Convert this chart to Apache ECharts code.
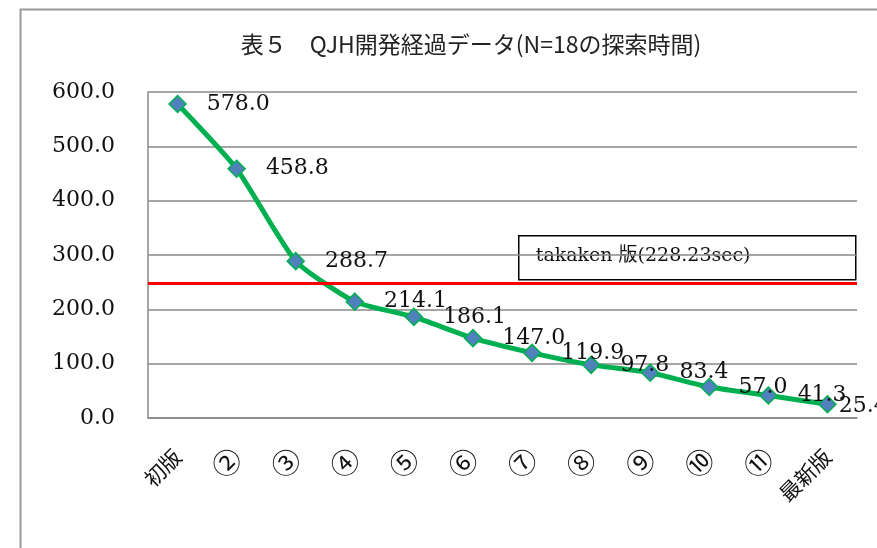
<!DOCTYPE html>
<html>
<head>
<meta charset="utf-8">
<script src="https://cdn.jsdelivr.net/npm/echarts@6/dist/echarts.min.js"></script>
<style>
  html, body { margin: 0; padding: 0; background: #fff; }
  #chart { width: 877px; height: 548px; }
</style>
</head>
<body>
<div id="chart"></div>
<script>
// 版ごとの探索時間 (sec)
const categories = ['初版', '②', '③', '④', '⑤', '⑥', '⑦', '⑧', '⑨', '⑩', '⑪', '最新版']
const times = [578.0, 458.8, 288.7, 214.1, 186.1, 147.0, 119.9, 97.8, 83.4, 57.0, 41.3, 25.4]
// takaken 版の基準線 (図の位置から読んだ値)
const takakenLevel = 248
const takakenText = 'takaken 版(228.23sec)'
const yTicks = { min: 0, max: 600, interval: 100 }

const numFont = 'DejaVu Serif'
const jpFont = 'Noto Sans CJK JP'

const myChart = echarts.init(document.getElementById('chart'))

const seriesData = times.map(function (v, i) {
  if (i === times.length - 1) {
    return { value: v, label: { distance: 2, offset: [0, 2] } }
  }
  return v
})

const option = {
  animation: false,
  title: {
    text: '表５　QJH開発経過データ(N=18の探索時間)',
    left: 466,
    top: 28,
    textAlign: 'center',
    textStyle: {
      fontFamily: jpFont,
      fontWeight: 'normal',
      fontSize: 23,
      color: '#222'
    }
  },
  grid: {
    left: 148,
    right: 20,
    top: 92,
    bottom: 130
  },
  xAxis: {
    type: 'category',
    data: categories,
    axisLine: { show: true, lineStyle: { color: '#888', width: 1.5 } },
    axisTick: { show: false },
    axisLabel: {
      rotate: 45,
      margin: 35,
      fontFamily: jpFont,
      fontSize: 21,
      color: '#111',
      // 丸数字は少し大きく
      formatter: function (v) {
        return v.length === 1 ? '{c|' + v + '}' : v
      },
      rich: {
        c: { fontFamily: jpFont, fontSize: 28, color: '#111' }
      }
    }
  },
  yAxis: {
    type: 'value',
    min: yTicks.min,
    max: yTicks.max,
    interval: yTicks.interval,
    axisLine: { show: true, lineStyle: { color: '#888', width: 1.5 } },
    axisTick: { show: false },
    splitLine: { lineStyle: { color: '#888', width: 1.5 } },
    axisLabel: {
      margin: 33,
      fontFamily: numFont,
      fontSize: 22,
      color: '#111',
      formatter: function (v) { return v.toFixed(1) }
    }
  },
  series: [
    {
      type: 'line',
      data: seriesData,
      smooth: 0.18,
      symbol: 'diamond',
      symbolSize: 17,
      lineStyle: { color: '#00B050', width: 5 },
      itemStyle: { color: '#4F81BD', borderColor: '#00B050', borderWidth: 1.5 },
      label: {
        show: true,
        position: 'right',
        distance: 20,
        fontFamily: numFont,
        fontSize: 22,
        color: '#111',
        formatter: function (p) { return p.value.toFixed(1) }
      },
      z: 3,
      markLine: {
        silent: true,
        symbol: 'none',
        label: { show: false },
        lineStyle: { color: '#FF0000', width: 3, type: 'solid' },
        data: [{ yAxis: takakenLevel }]
      }
    }
  ],
  graphic: [
    {
      type: 'rect',
      left: 18,
      top: 7,
      shape: { width: 900, height: 600 },
      style: { fill: 'none', stroke: '#999', lineWidth: 2 },
      z: -1
    },
    {
      type: 'group',
      left: 518,
      top: 235,
      z: 10,
      children: [
        {
          type: 'rect',
          shape: { width: 337, height: 44 },
          style: { fill: '#fff', stroke: '#000', lineWidth: 1.5 }
        },
        {
          type: 'text',
          left: 17,
          top: 11,
          style: {
            text: takakenText,
            fontFamily: numFont + ', ' + jpFont,
            fontSize: 19,
            fill: '#111'
          }
        }
      ]
    }
  ]
}

myChart.setOption(option)
</script>
</body>
</html>
